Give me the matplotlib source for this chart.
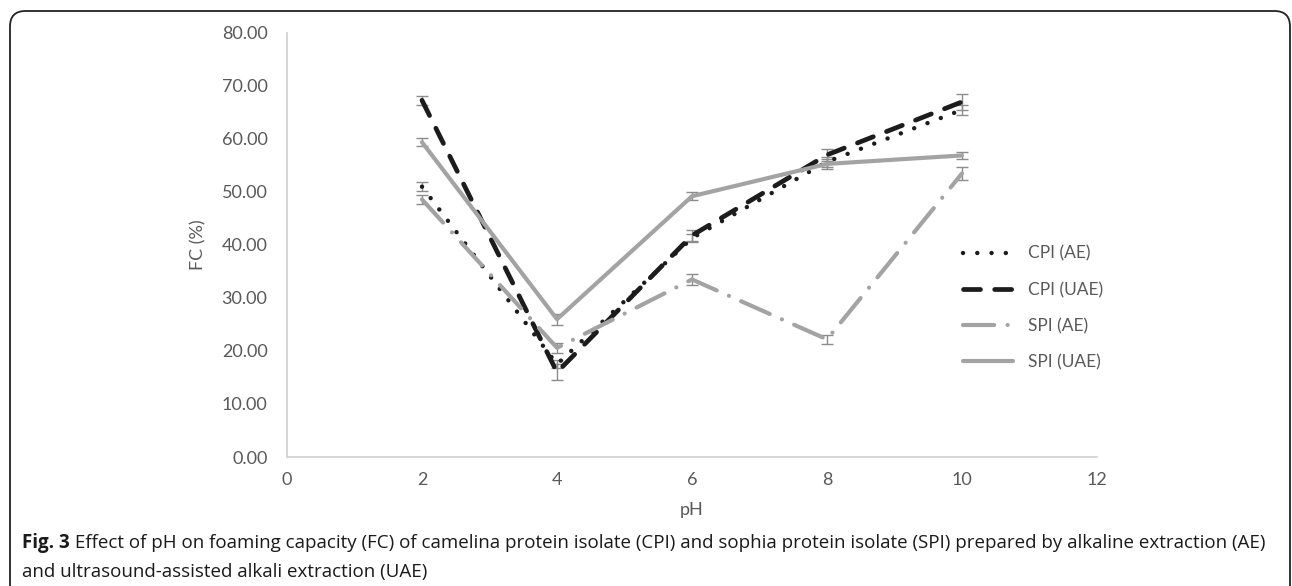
import numpy as np
import matplotlib
matplotlib.use("Agg")
import matplotlib.pyplot as plt
from matplotlib.patches import FancyBboxPatch

# data
ph = [2, 4, 6, 8, 10]

cpi_ae = [51.0, 17.5, 41.3, 55.7, 65.5]
cpi_ae_err = [0.8, 0.8, 0.8, 0.9, 1.0]

cpi_uae = [67.3, 16.0, 41.8, 57.0, 67.0]
cpi_uae_err = [0.8, 1.5, 1.0, 1.2, 1.5]

spi_ae = [48.6, 20.6, 33.5, 22.2, 53.5]
spi_ae_err = [0.9, 1.0, 1.0, 0.8, 1.3]

spi_uae = [59.4, 26.0, 49.2, 55.3, 56.9]
spi_uae_err = [0.8, 1.0, 0.8, 0.9, 0.6]

labels = ["CPI (AE)", "CPI (UAE)", "SPI (AE)", "SPI (UAE)"]

x_ticks = [0, 2, 4, 6, 8, 10, 12]
y_ticks = [0, 10, 20, 30, 40, 50, 60, 70, 80]

caption_bold = "Fig. 3"
caption_1 = (" Effect of pH on foaming capacity (FC) of camelina protein isolate (CPI) "
             "and sophia protein isolate (SPI) prepared by alkaline extraction (AE)")
caption_2 = "and ultrasound-assisted alkali extraction (UAE)"

black = "#1c1c1c"
grey = "#a3a3a3"
err_col = "#8c8c8c"
txt_col = "#595959"
fs = 13

W, H = 1292, 586
fig = plt.figure(figsize=(W / 100, H / 100), dpi=100)
ax = fig.add_axes([287 / W, 1 - 457 / H, (1097 - 287) / W, (457 - 33) / H])

series = [
    (cpi_ae, cpi_ae_err, black, (0, (0.01, 3.2)), 3.2),
    (cpi_uae, cpi_uae_err, black, (0, (3.6, 3.0)), 3.4),
    (spi_ae, spi_ae_err, grey, (0, (7.5, 3.2, 0.01, 3.2)), 3.0),
    (spi_uae, spi_uae_err, grey, "-", 3.0),
]

handles = []
for (vals, errs, col, ls, lw), lab in zip(series, labels):
    ax.errorbar(ph, vals, yerr=errs, fmt="none", ecolor=err_col,
                elinewidth=1.0, capsize=4, capthick=1.0, zorder=2)
    line, = ax.plot(ph, vals, color=col, linestyle=ls, linewidth=lw,
                    dash_capstyle="round", solid_capstyle="round",
                    label=lab, zorder=3)
    handles.append(line)

ax.set_xlim(0, 12)
ax.set_ylim(0, 80)
ax.set_xticks(x_ticks)
ax.set_yticks(y_ticks)
ax.set_yticklabels([f"{v:.2f}" for v in y_ticks])
ax.tick_params(length=0, labelsize=fs, labelcolor=txt_col)
ax.tick_params(axis="y", pad=14)
ax.tick_params(axis="x", pad=11)
for lbl in ax.get_xticklabels() + ax.get_yticklabels():
    lbl.set_fontfamily("Lato")

for side in ["top", "right"]:
    ax.spines[side].set_visible(False)
for side in ["left", "bottom"]:
    ax.spines[side].set_color("#d0d0d0")
    ax.spines[side].set_linewidth(1.2)

ax.set_xlabel("pH", fontsize=fs, color=txt_col, family="Lato")
ax.set_ylabel("FC (%)", fontsize=fs, color=txt_col, family="Lato")
ax.xaxis.set_label_coords(0.5, -0.105)
ax.yaxis.set_label_coords(-0.099, 0.5)

leg = ax.legend(handles=handles, loc="upper left", bbox_to_anchor=(0.815, 0.535),
                frameon=False, handlelength=2.9, handletextpad=0.85,
                labelspacing=1.15, prop={"family": "Lato", "size": 12.5})
for t in leg.get_texts():
    t.set_color(txt_col)

# caption below the chart
fig.canvas.draw()
r = fig.canvas.get_renderer()
size = 11.0
for _ in range(6):
    tb = fig.text(22 / W, 1 - 543 / H, caption_bold, fontsize=size, weight="bold",
                  family="Open Sans", va="center", color="#1a1a1a")
    bb = tb.get_window_extent(r)
    t1 = fig.text(bb.x1 / W, 1 - 543 / H, caption_1, fontsize=size,
                  family="Open Sans", va="center", color="#1a1a1a")
    bb1 = t1.get_window_extent(r)
    total = bb1.x1 - bb.x0
    if abs(total - 1245) < 4:
        break
    tb.remove()
    t1.remove()
    size *= 1245 / total
fig.text(22 / W, 1 - 572 / H, caption_2, fontsize=size, family="Open Sans",
         va="center", color="#1a1a1a")

# rounded frame around the figure (bottom runs off the image)
frame = FancyBboxPatch((10 / W, -0.1), (1290 - 10) / W, (H - 11) / H + 0.1,
                       boxstyle="round,pad=0,rounding_size=0.012",
                       transform=fig.transFigure, fill=False,
                       edgecolor="#222222", linewidth=1.3, mutation_aspect=W / H)
fig.patches.append(frame)

fig.savefig("out.png", dpi=100)
